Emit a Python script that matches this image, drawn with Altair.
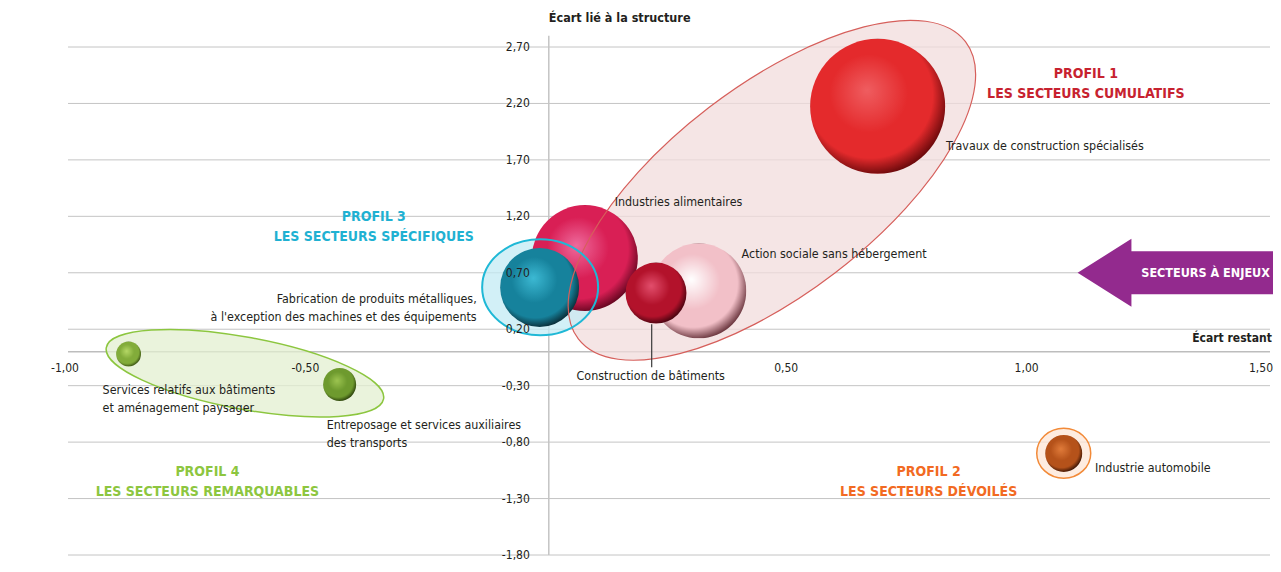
import math
import altair as alt
import pandas as pd

# ---------------- données ----------------
secteurs = [
    "Travaux de construction spécialisés",
    "Industries alimentaires",
    "Fabrication de produits métalliques",
    "Action sociale sans hébergement",
    "Construction de bâtiments",
    "Services relatifs aux bâtiments",
    "Entreposage et services auxiliaires",
    "Industrie automobile",
]
ecart_restant = [0.684, 0.075, -0.019, 0.312, 0.223, -0.874, -0.435, 1.071]
ecart_structure = [2.175, 0.83, 0.57, 0.54, 0.52, -0.02, -0.29, -0.90]
poids = [100, 61.6, 34.2, 49.5, 20.4, 3.4, 6.0, 7.5]

etiquettes = [
    "Travaux de construction spécialisés",
    "Industries alimentaires",
    "Action sociale sans hébergement",
    "Construction de bâtiments",
    "Fabrication de produits métalliques,\nà l'exception des machines et des équipements",
    "Services relatifs aux bâtiments\net aménagement paysager",
    "Entreposage et services auxiliaires\ndes transports",
    "Industrie automobile",
]
etiq_x = [0.826, 0.137, 0.401, 0.212, -0.150, -0.928, -0.462, 1.136]
etiq_y = [1.821, 1.325, 0.864, -0.216, 0.470, -0.340, -0.646, -1.031]
etiq_align = ["left", "left", "left", "center", "right", "left", "left", "left"]

rappel_x = [0.214]
rappel_y = [0.244]
rappel_y2 = [-0.136]

y_ticks = [-1.8, -1.3, -0.8, -0.3, 0.2, 0.7, 1.2, 1.7, 2.2, 2.7]
y_tick_labels = ["-1,80", "-1,30", "-0,80", "-0,30", "0,20", "0,70", "1,20", "1,70", "2,20", "2,70"]
x_ticks = [-1.0, -0.5, 0.5, 1.0, 1.5]
x_tick_labels = ["-1,00", "-0,50", "0,50", "1,00", "1,50"]
x_tick_align = ["center", "center", "center", "center", "right"]
x_domain = [-1.0, 1.5]
y_domain = [-1.8, 2.7]
y_axe_haut = 2.80

profils = [
    "PROFIL 1\nLES SECTEURS CUMULATIFS",
    "PROFIL 2\nLES SECTEURS DÉVOILÉS",
    "PROFIL 3\nLES SECTEURS SPÉCIFIQUES",
    "PROFIL 4\nLES SECTEURS REMARQUABLES",
]
profil_x = [1.117, 0.790, -0.364, -0.710]
profil_y = [2.459, -1.062, 1.191, -1.062]
profil_couleurs = ["#c7222f", "#f26a22", "#1fb1d2", "#8dc63f"]

ell_x = [0.464, -0.018, -0.632, 1.071]
ell_y = [1.431, 0.572, -0.19, -0.898]
ell_a = [244, 58, 141, 27]
ell_b = [104, 48, 36, 25]
ell_angle = [37.5, 0, -10.5, 0]
ell_fill = ["#f1dcdc", "#c3ebf4", "#e3efd0", "#fde6d6"]
ell_stroke = ["#d65f5b", "#1fb8d6", "#8cc63f", "#f28a38"]
ell_sw = [1.2, 2.0, 1.5, 1.5]

fleche_x = [1.311]
fleche_y = [0.70]
fleche_texte = ["SECTEURS À ENJEUX"]
fleche_texte_x = [1.366]

# (reflet, teinte, ombre)
sphere_couleurs = [
    ("#ef5d60", "#e42a2c", "#6e0a0c"),
    ("#ee6a9c", "#d91f55", "#6a0722"),
    ("#3cb9d3", "#16829c", "#0a2f3a"),
    ("#ffffff", "#f2c0c8", "#6e3a42"),
    ("#e24e6c", "#b3122b", "#4a0410"),
    ("#b5d866", "#82ac3a", "#3a5212"),
    ("#9cc450", "#6e9a2e", "#2c420c"),
    ("#e07b3a", "#b5521a", "#3e1605"),
]

FONT = "Liberation Sans Narrow, DejaVu Sans Condensed, Roboto Condensed, Liberation Sans, sans-serif"
W, H = 1202, 508
TXT = "#231f20"

xs = alt.Scale(domain=x_domain, nice=False, zero=False)
ys = alt.Scale(domain=y_domain, nice=False, zero=False)
# taille de symbole = diamètre² ; la plus grosse sphère fait 135 px de diamètre
size_scale = alt.Scale(domain=[0, 100], range=[0, 135 ** 2], zero=True)


def X(f="x"):
    return alt.X(f + ":Q", scale=xs, axis=None)


def Y(f="y"):
    return alt.Y(f + ":Q", scale=ys, axis=None)


def ellipse_path(ratio, angle_deg):
    t = math.radians(angle_deg)
    c, s = math.cos(t), math.sin(t)
    x0, y0 = -c, s
    x1, y1 = c, -s
    rot = -angle_deg
    return (f"M {x0:.4f} {y0:.4f} A 1 {ratio:.4f} {rot:.2f} 1 1 {x1:.4f} {y1:.4f} "
            f"A 1 {ratio:.4f} {rot:.2f} 1 1 {x0:.4f} {y0:.4f} Z")


layers = []

# grille et axes
df_yt = pd.DataFrame({"y": y_ticks, "lab": y_tick_labels,
                      "x": [x_domain[0]] * len(y_ticks), "x2": [x_domain[1]] * len(y_ticks),
                      "x0": [0.0] * len(y_ticks)})
layers.append(alt.Chart(df_yt).mark_rule(color="#c4c4c4", strokeWidth=1).encode(
    y=Y(), x=X(), x2="x2"))
df_ax = pd.DataFrame({"y": [0.0], "x": [x_domain[0]], "x2": [x_domain[1]]})
layers.append(alt.Chart(df_ax).mark_rule(color="#bdbdbd", strokeWidth=1.5).encode(
    y=Y(), x=X(), x2="x2"))
df_ay = pd.DataFrame({"x": [0.0], "y": [y_axe_haut], "y2": [y_domain[0]]})
layers.append(alt.Chart(df_ay).mark_rule(color="#c4c4c4", strokeWidth=1.5).encode(
    x=X(), y=Y(), y2="y2"))

# ellipses : remplissage
df_ell = pd.DataFrame({"x": ell_x, "y": ell_y, "i": list(range(len(ell_x)))})
for k in range(len(ell_x)):
    path = ellipse_path(ell_b[k] / ell_a[k], ell_angle[k])
    layers.append(alt.Chart(df_ell).transform_filter(alt.datum.i == k).mark_point(
        shape=path, size=(2 * ell_a[k]) ** 2, filled=True, fill=ell_fill[k], fillOpacity=0.75,
        strokeWidth=0, opacity=1).encode(x=X(), y=Y()))

# sphères
df_b = pd.DataFrame({"i": list(range(len(secteurs))), "secteur": secteurs,
                     "x": ecart_restant, "y": ecart_structure, "poids": poids})
for k in range(len(secteurs)):
    hl, base, dark = sphere_couleurs[k]
    grad = {
        "gradient": "radial",
        "x1": 0.42, "y1": 0.38, "r1": 0.0,
        "x2": 0.45, "y2": 0.43, "r2": 0.58,
        "stops": [
            {"offset": 0.0, "color": hl},
            {"offset": 0.5, "color": base},
            {"offset": 0.8, "color": base},
            {"offset": 1.0, "color": dark},
        ],
    }
    layers.append(alt.Chart(df_b).transform_filter(alt.datum.i == k).mark_circle(
        fill=grad, opacity=1, strokeWidth=0).encode(
        x=X(), y=Y(), size=alt.Size("poids:Q", scale=size_scale, legend=None)))

# ellipses : contour
for k in range(len(ell_x)):
    path = ellipse_path(ell_b[k] / ell_a[k], ell_angle[k])
    layers.append(alt.Chart(df_ell).transform_filter(alt.datum.i == k).mark_point(
        shape=path, size=(2 * ell_a[k]) ** 2, filled=False, stroke=ell_stroke[k],
        strokeWidth=ell_sw[k], opacity=1).encode(x=X(), y=Y()))

# étiquettes des axes (au-dessus des sphères)
layers.append(alt.Chart(df_yt).mark_text(align="right", baseline="middle", dx=-19, font=FONT,
                                         fontSize=12, color=TXT).encode(
    y=Y(), x=X("x0"), text="lab:N"))
df_xt = pd.DataFrame({"x": x_ticks, "lab": x_tick_labels, "y0": [0.0] * len(x_ticks),
                      "al": x_tick_align})
layers.append(alt.Chart(df_xt).transform_filter(alt.datum.al == "center").mark_text(
    align="center", baseline="middle", dx=-3, dy=16, font=FONT, fontSize=12, color=TXT).encode(
    x=X(), y=Y("y0"), text="lab:N"))
layers.append(alt.Chart(df_xt).transform_filter(alt.datum.al == "right").mark_text(
    align="right", baseline="middle", dx=3, dy=16, font=FONT, fontSize=12, color=TXT).encode(
    x=X(), y=Y("y0"), text="lab:N"))
layers.append(alt.Chart(pd.DataFrame({"x": [0.0], "y": [2.955], "t": ["Écart lié à la structure"]}))
              .mark_text(align="left", baseline="middle", font=FONT, fontSize=12.5, fontWeight="bold",
                         color=TXT).encode(x=X(), y=Y(), text="t:N"))
layers.append(alt.Chart(pd.DataFrame({"x": [1.504], "y": [0.12], "t": ["Écart restant"]}))
              .mark_text(align="right", baseline="middle", font=FONT, fontSize=12, fontWeight="bold",
                         color=TXT).encode(x=X(), y=Y(), text="t:N"))

# trait de rappel
layers.append(alt.Chart(pd.DataFrame({"x": rappel_x, "y": rappel_y, "y2": rappel_y2}))
              .mark_rule(color="#3a3a3a", strokeWidth=1.2).encode(x=X(), y=Y(), y2="y2"))

# étiquettes des secteurs
df_lab = pd.DataFrame({"x": etiq_x, "y": etiq_y, "t": etiquettes, "al": etiq_align})
for al in ["left", "right", "center"]:
    layers.append(alt.Chart(df_lab).transform_filter(alt.datum.al == al).mark_text(
        align=al, baseline="middle", font=FONT, fontSize=12.4, color=TXT, lineBreak="\n",
        lineHeight=18).encode(x=X(), y=Y(), text="t:N"))

# titres des profils
df_p = pd.DataFrame({"x": profil_x, "y": profil_y, "t": profils, "c": profil_couleurs})
layers.append(alt.Chart(df_p).mark_text(
    align="center", baseline="middle", font=FONT, fontSize=14, fontWeight="bold", lineBreak="\n",
    lineHeight=20).encode(x=X(), y=Y(), text="t:N", color=alt.Color("c:N", scale=None)))

# flèche
fleche_path = "M -1 0 L -0.47 -0.335 L -0.47 -0.212 L 1 -0.212 L 1 0.212 L -0.47 0.212 L -0.47 0.335 Z"
layers.append(alt.Chart(pd.DataFrame({"x": fleche_x, "y": fleche_y})).mark_point(
    shape=fleche_path, size=203 ** 2, filled=True, fill="#932a8e", strokeWidth=0, opacity=1)
    .encode(x=X(), y=Y()))
layers.append(alt.Chart(pd.DataFrame({"x": fleche_texte_x, "y": fleche_y, "t": fleche_texte}))
              .mark_text(align="center", baseline="middle", font=FONT, fontSize=12.5, fontWeight="bold",
                         color="white").encode(x=X(), y=Y(), text="t:N"))

chart = alt.layer(*layers).properties(
    width=W, height=H,
    autosize=alt.AutoSizeParams(type="none"),
    padding={"left": 60, "top": 39, "right": 3, "bottom": 8},
    background="white",
).configure_view(stroke=None)

chart.save("out.html", embed_options={"renderer": "svg", "actions": False})
